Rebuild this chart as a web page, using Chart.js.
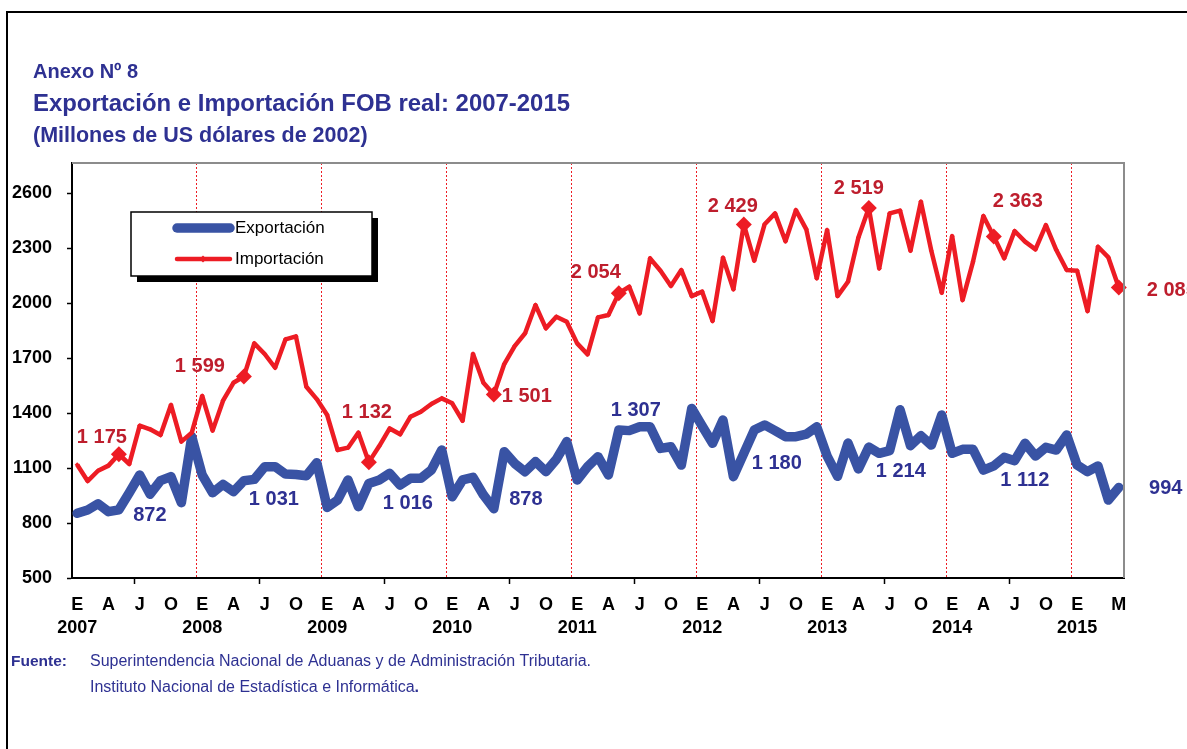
<!DOCTYPE html>
<html lang="es">
<head>
<meta charset="utf-8">
<title>Anexo Nº 8 - Exportación e Importación FOB real</title>
<script src="https://cdn.jsdelivr.net/npm/chart.js@4.4.1/dist/chart.umd.min.js"></script>
<style>
  html, body { margin: 0; padding: 0; background: #fff; }
  canvas { display: block; }
</style>
</head>
<body>
<canvas id="chart" width="1187" height="749"></canvas>
<script>
// Meses (letra inicial) y años del eje horizontal
const monthLetters = ['E', 'F', 'M', 'A', 'M', 'J', 'J', 'A', 'S', 'O', 'N', 'D'];
const years = ['2007', '2008', '2009', '2010', '2011', '2012', '2013', '2014', '2015'];

// Exportación FOB real, millones de US$ de 2002 (ene 2007 - may 2015)
const exportacion = [
  853, 871, 905, 862, 872, 965, 1062, 957, 1031, 1053, 911, 1271,
  1062, 965, 1011, 971, 1031, 1038, 1107, 1107, 1067, 1065, 1058, 1129,
  885, 925, 1035, 889, 1016, 1035, 1071, 1007, 1044, 1044, 1089, 1198,
  943, 1035, 1049, 953, 878, 1189, 1125, 1080, 1135, 1080, 1147, 1244,
  1035, 1107, 1162, 1062, 1307, 1304, 1325, 1325, 1207, 1216, 1116, 1425,
  1329, 1235, 1362, 1053, 1180, 1307, 1335, 1304, 1271, 1271, 1285, 1325,
  1165, 1055, 1236, 1095, 1214, 1180, 1195, 1418, 1222, 1276, 1225, 1389,
  1180, 1202, 1202, 1089, 1112, 1158, 1140, 1235, 1165, 1213, 1198, 1280,
  1116, 1080, 1111, 925, 994
];

// Importación FOB real, millones de US$ de 2002 (ene 2007 - may 2015)
const importacion = [
  1118, 1029, 1085, 1113, 1175, 1122, 1331, 1311, 1280, 1444, 1244, 1293,
  1493, 1304, 1467, 1565, 1599, 1780, 1722, 1647, 1802, 1818, 1543, 1476,
  1389, 1198, 1211, 1293, 1132, 1220, 1316, 1284, 1380, 1407, 1449, 1480,
  1453, 1358, 1722, 1565, 1501, 1667, 1765, 1835, 1989, 1862, 1925, 1898,
  1780, 1720, 1922, 1935, 2054, 2089, 1944, 2244, 2176, 2093, 2180, 2038,
  2062, 1902, 2247, 2075, 2429, 2231, 2430, 2489, 2337, 2507, 2402, 2135,
  2398, 2038, 2116, 2357, 2519, 2189, 2489, 2504, 2285, 2553, 2285, 2056,
  2365, 2016, 2225, 2475, 2363, 2244, 2393, 2335, 2293, 2425, 2289, 2180,
  2176, 1956, 2307, 2249, 2085
];

// Eje vertical: marcas de 500 a 2600 cada 300; el área llega algo más arriba
const yTicks = [500, 800, 1100, 1400, 1700, 2000, 2300, 2600];
const yMin = 500, yMax = 2764;

// Etiquetas de categoría: "E-2007", "F-2007", ...
const categories = exportacion.map((_, i) => monthLetters[i % 12] + '-' + years[Math.floor(i / 12)]);

// Se rotulan los meses de mayo de cada año
const labelledMonth = 4;

// Desplazamiento de cada rótulo respecto a su punto (dx, dy)
const impLabelOffsets = [[-17, -17], [-44, -10], [-2, -50], [33, 2], [-23, -21], [-11, -18], [-10, -19], [24, -35], [53, 3]];
const expLabelOffsets = [[31, 6], [30, 19], [39, 20], [32, -9], [17, -20], [33, 10], [32, 24], [31, 15], [47, 1]];

const FONT = "'Liberation Sans', Arial, Helvetica, sans-serif";
const NAVY = '#2E3192';
const BLUE = '#3953A4';
const RED = '#ED1C24';
const DARKRED = '#BE1E2D';

const fmt = v => String(v).replace(/\B(?=(\d{3})+(?!\d))/g, ' ');

function text(ctx, str, x, y, font, color, align, maxW) {
  ctx.font = font;
  ctx.fillStyle = color;
  ctx.textAlign = align || 'left';
  ctx.textBaseline = 'middle';
  if (maxW) ctx.fillText(str, x, y, maxW);
  else ctx.fillText(str, x, y);
}

const decorations = {
  id: 'decorations',
  beforeDraw(chart) {
    const ctx = chart.ctx;
    ctx.save();
    ctx.fillStyle = '#fff';
    ctx.fillRect(0, 0, chart.width, chart.height);
    ctx.restore();
  },
  afterDatasetsDraw(chart) {
    const ctx = chart.ctx;
    const sets = [
      { meta: chart.getDatasetMeta(0), data: exportacion, offs: expLabelOffsets, color: NAVY },
      { meta: chart.getDatasetMeta(1), data: importacion, offs: impLabelOffsets, color: DARKRED }
    ];
    ctx.save();
    sets.forEach(s => {
      let k = 0;
      s.data.forEach((v, i) => {
        if (i % 12 !== labelledMonth) return;
        const pt = s.meta.data[i];
        const o = s.offs[k++];
        text(ctx, fmt(v), pt.x + o[0], pt.y + o[1], 'bold 20px ' + FONT, s.color, 'center');
      });
    });
    ctx.restore();
  },
  afterDraw(chart) {
    const ctx = chart.ctx;
    const a = chart.chartArea;
    ctx.save();

    // marco exterior
    ctx.strokeStyle = '#000';
    ctx.lineWidth = 2;
    ctx.beginPath();
    ctx.moveTo(7, chart.height);
    ctx.lineTo(7, 12);
    ctx.lineTo(chart.width, 12);
    ctx.stroke();

    // borde superior y derecho del área de trazado
    ctx.strokeStyle = '#8C8C8C';
    ctx.lineWidth = 2;
    ctx.beginPath();
    ctx.moveTo(a.left, a.top);
    ctx.lineTo(a.right, a.top);
    ctx.lineTo(a.right, a.bottom);
    ctx.stroke();

    // títulos
    text(ctx, 'Anexo Nº 8', 33, 72, 'bold 20px ' + FONT, NAVY);
    text(ctx, 'Exportación e Importación FOB real: 2007-2015', 33, 104, 'bold 24px ' + FONT, NAVY, 'left', 537);
    text(ctx, '(Millones de US dólares de 2002)', 33, 136, 'bold 21.5px ' + FONT, NAVY, 'left', 337);

    // leyenda con sombra
    const lg = { x: 131, y: 212, w: 241, h: 64 };
    ctx.fillStyle = '#000';
    ctx.fillRect(lg.x + 6, lg.y + 6, lg.w, lg.h);
    ctx.fillStyle = '#fff';
    ctx.fillRect(lg.x, lg.y, lg.w, lg.h);
    ctx.strokeStyle = '#000';
    ctx.lineWidth = 1.5;
    ctx.strokeRect(lg.x, lg.y, lg.w, lg.h);
    chart.data.datasets.forEach((ds, i) => {
      const y = lg.y + 16 + i * 31;
      ctx.strokeStyle = ds.borderColor;
      ctx.lineWidth = ds.borderWidth;
      ctx.lineCap = 'round';
      ctx.beginPath();
      ctx.moveTo(lg.x + 46, y);
      ctx.lineTo(lg.x + 99, y);
      ctx.stroke();
      if (i === 1) {
        ctx.fillStyle = ds.borderColor;
        ctx.beginPath();
        ctx.moveTo(lg.x + 72, y - 3.5);
        ctx.lineTo(lg.x + 75.5, y);
        ctx.lineTo(lg.x + 72, y + 3.5);
        ctx.lineTo(lg.x + 68.5, y);
        ctx.closePath();
        ctx.fill();
      }
      text(ctx, ds.label, lg.x + 104, y, '17px ' + FONT, '#000');
    });

    // fuente
    text(ctx, 'Fuente:', 11, 662, 'bold 15.5px ' + FONT, NAVY);
    text(ctx, 'Superintendencia Nacional de Aduanas y de Administración Tributaria.', 90, 662, '16px ' + FONT, NAVY, 'left', 546);
    const l2 = 'Instituto Nacional de Estadística e Informática';
    text(ctx, l2, 90, 688, '16px ' + FONT, NAVY, 'left', 330);
    const w2 = Math.min(ctx.measureText(l2).width, 330);
    text(ctx, '.', 90 + w2, 688, 'bold 16px ' + FONT, NAVY);

    ctx.restore();
  }
};

const lastIndex = exportacion.length - 1;

new Chart(document.getElementById('chart'), {
  type: 'line',
  data: {
    labels: categories,
    datasets: [
      {
        label: 'Exportación',
        data: exportacion,
        borderColor: BLUE,
        backgroundColor: BLUE,
        borderWidth: 9.5,
        borderJoinStyle: 'round',
        borderCapStyle: 'round',
        pointRadius: 0,
        tension: 0,
        order: 1
      },
      {
        label: 'Importación',
        data: importacion,
        borderColor: RED,
        backgroundColor: RED,
        borderWidth: 4.5,
        borderJoinStyle: 'round',
        pointStyle: 'rectRot',
        pointRadius: c => (c.dataIndex % 12 === labelledMonth ? 8 : 2.5),
        pointBorderWidth: 0,
        tension: 0,
        order: 0
      }
    ]
  },
  options: {
    responsive: false,
    animation: false,
    events: [],
    layout: { padding: { left: 0, right: 63, top: 163, bottom: 0 } },
    plugins: {
      legend: { display: false },
      title: { display: false },
      tooltip: { enabled: false }
    },
    scales: {
      x: {
        type: 'category',
        offset: true,
        afterFit: s => { s.height = 171; },
        border: { display: true, color: '#000', width: 2, dash: [2, 2] },
        grid: {
          offset: true,
          drawOnChartArea: true,
          drawTicks: true,
          tickLength: 6,
          lineWidth: 1,
          tickWidth: 1.5,
          color: c => (c.index > 0 && c.index <= lastIndex && c.index % 12 === 0 ? RED : 'rgba(0,0,0,0)'),
          tickColor: c => (c.index % 12 === 6 ? '#000' : 'rgba(0,0,0,0)')
        },
        ticks: {
          autoSkip: false,
          maxRotation: 0,
          minRotation: 0,
          padding: 9,
          color: '#000',
          font: { family: FONT, size: 18, weight: 'bold', lineHeight: 1.3 },
          callback: (value, index) => {
            const m = index % 12;
            if (index === lastIndex) return monthLetters[m];
            if (index > lastIndex - 3) return '';
            if (m === 0) return [monthLetters[m], years[index / 12]];
            if (m % 3 === 0) return monthLetters[m];
            return '';
          }
        }
      },
      y: {
        min: yMin,
        max: yMax,
        afterFit: s => { s.width = 72; },
        afterBuildTicks: s => {
          s.ticks = yTicks.map(v => ({ value: v }));
        },
        border: { display: true, color: '#000', width: 2 },
        grid: {
          drawOnChartArea: false,
          drawTicks: true,
          tickLength: 5,
          tickWidth: 1.5,
          tickColor: '#000'
        },
        ticks: {
          padding: 15,
          color: '#000',
          font: { family: FONT, size: 18, weight: 'bold' },
          callback: v => String(v)
        }
      }
    }
  },
  plugins: [decorations]
});
</script>
</body>
</html>
